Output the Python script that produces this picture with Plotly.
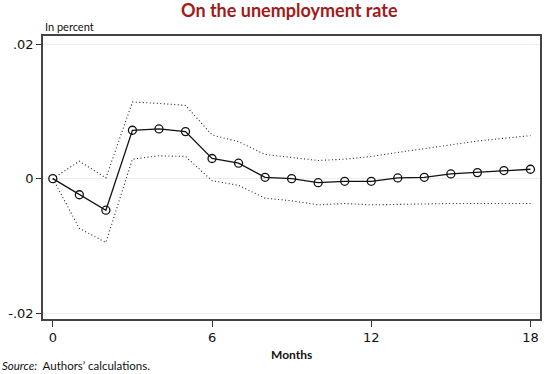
import plotly.graph_objects as go

months = list(range(19))
irf = [0.0, -0.0024, -0.0047, 0.0072, 0.0074, 0.0070, 0.0030, 0.0023, 0.0002, 0.0000,
       -0.0006, -0.0004, -0.0004, 0.0001, 0.0002, 0.0007, 0.0009, 0.0012, 0.0014]
upper = [0.0, 0.0026, 0.0001, 0.0114, 0.0112, 0.0109, 0.0065, 0.0055, 0.0036, 0.0031,
         0.0027, 0.0029, 0.0033, 0.0039, 0.0045, 0.0051, 0.0056, 0.0060, 0.0064]
lower = [0.0, -0.0074, -0.0095, 0.0029, 0.0034, 0.0033, -0.0003, -0.0010, -0.0029, -0.0033,
         -0.0039, -0.0037, -0.0039, -0.0038, -0.0037, -0.0037, -0.0037, -0.0037, -0.0037]
x_ticks = [0, 6, 12, 18]
y_ticks = [-0.02, 0, 0.02]
y_tick_labels = ["-.02", "0", ".02"]

fig = go.Figure()
band_style = dict(color="#222222", width=1.1, dash="1px,2.5px")
fig.add_trace(go.Scatter(x=months, y=upper, mode="lines", line=band_style,
                         hoverinfo="skip", showlegend=False))
fig.add_trace(go.Scatter(x=months, y=lower, mode="lines", line=band_style,
                         hoverinfo="skip", showlegend=False))
fig.add_trace(go.Scatter(x=months, y=irf, mode="lines+markers",
                         line=dict(color="#111111", width=1.3),
                         marker=dict(symbol="circle-open", size=8, color="#111111",
                                     line=dict(width=1.3)),
                         showlegend=False))

fig.update_layout(
    width=550, height=374,
    margin=dict(l=39, r=8, t=36, b=55),
    paper_bgcolor="white", plot_bgcolor="white",
    font=dict(family="DejaVu Sans", color="#111111"),
    title=dict(text="<b>On the unemployment rate</b>", x=0.526, xanchor="center",
               y=0.972, yanchor="middle",
               font=dict(family="Lato", size=18, color="#a11b1b")),
    xaxis=dict(range=[-0.37, 18.36], tickvals=x_ticks, ticks="outside", ticklen=6,
               tickcolor="#333333", tickfont=dict(size=13), showgrid=False,
               zeroline=False, showline=True, linecolor="#444444", linewidth=1.5,
               mirror=True),
    yaxis=dict(range=[-0.02089, 0.02123], tickvals=y_ticks, ticktext=y_tick_labels,
               ticks="outside", ticklen=5, tickcolor="#333333", tickfont=dict(size=13),
               showgrid=True, gridcolor="#e6f0f1", gridwidth=1.2, zeroline=False,
               showline=True, linecolor="#444444", linewidth=1.5, mirror=True),
    annotations=[
        dict(text="In percent", xref="paper", yref="paper", x=0.0, y=1.035,
             xanchor="left", yanchor="middle", showarrow=False,
             font=dict(family="Lato", size=11, color="#111111")),
        dict(text="<b>Months</b>", xref="paper", yref="paper", x=0.5, y=-0.126,
             xanchor="center", yanchor="middle", showarrow=False,
             font=dict(family="Lato", size=12, color="#111111")),
        dict(text="<i>Source:</i>  Authors\u2019 calculations.", xref="paper", yref="paper",
             x=-0.086, y=-0.163, xanchor="left", yanchor="middle", showarrow=False,
             font=dict(family="Lato", size=11.5, color="#111111")),
    ],
)

fig.write_html("out.html", config={"displayModeBar": False},
               post_script="document.body.style.margin='0';document.body.style.overflow='hidden';")
